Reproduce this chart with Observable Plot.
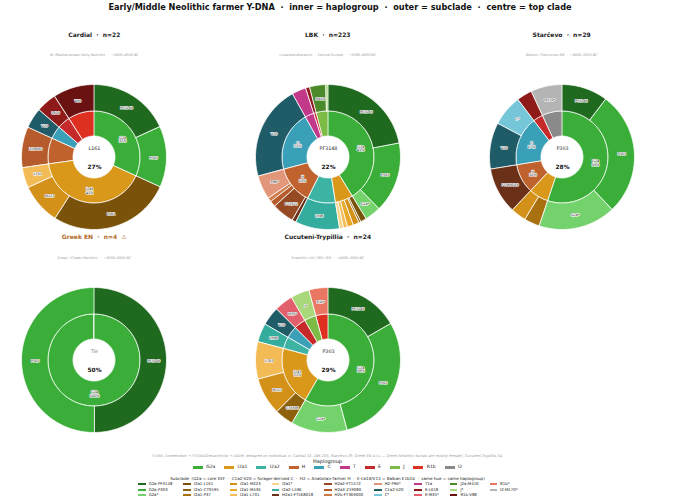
<!DOCTYPE html>
<html><head><meta charset="utf-8">
<script src="https://cdn.jsdelivr.net/npm/d3@7"></script>
<script src="https://cdn.jsdelivr.net/npm/@observablehq/plot@0.6"></script>
<style>
body{margin:0;background:#fff;font-family:"DejaVu Sans",sans-serif;}
#root{position:relative;width:680px;height:503px;overflow:hidden;background:#fff;}
.abs{position:absolute;white-space:pre;text-align:center;line-height:1;}
.ptitle{font-weight:bold;font-size:6px;color:#222;}
.psub{font-style:italic;font-size:3.4px;color:#999;}
.leg1{display:flex;justify-content:center;align-items:center;gap:9px;font-size:4.5px;color:#222;}
.leg1 .it{display:flex;align-items:center;gap:3.3px;}
.leg1 .sw{width:10px;height:2.6px;}
.leg2wrap{display:flex;justify-content:center;}
.leg2{display:grid;grid-template-rows:repeat(3,5.5px);grid-auto-flow:column;column-gap:11px;font-size:3.9px;color:#222;text-align:left;}
.leg2 .it{display:flex;align-items:center;gap:3px;white-space:nowrap;}
.leg2 .sw{width:7.4px;height:1.9px;flex:none;}
</style></head><body><div id="root"></div>
<script>
// ---------- data ----------
const haplogroups = ["G2a","I2a1","I2a2","H","C","T","E","J","R1b","I2"];
const haploColors = ["#3aae38","#d9981a","#3db3a3","#c0622d","#3aa0b8","#c2398a","#c62a2a","#7cbb45","#de3021","#8a8a8a"];

const subclades = ["G2a-PF3148","G2a-P303","G2a*","I2a1-L161","I2a1-CTS595","I2a1-P37","I2a1-M223","I2a1-M436","I2a1-L701","I2a1*","I2a2-L596","H2a1-FT568018","H2a2-FT1572","H2a3-Z19080","H2b-FT369000","H2-P96*","C1a2-V20","C*","T1a","E-L618","E-M35*","J2a-M410","J*","R1b-V88","R1b*","I2-M170*"];
const subcladeLabels = ["PF3148","P303","G2a*","L161","CTS595","P37","M223","M436","L701","I2a1*","L596","FT568018","FT1572","Z19080","FT369000","P96*","V20","C*","T1a","L618","M35*","M410","J*","V88","R1b*","M170*"];
const subcladeHaplo = ["G2a","G2a","G2a","I2a1","I2a1","I2a1","I2a1","I2a1","I2a1","I2a1","I2a2","H","H","H","H","H","C","C","T","E","E","J","J","R1b","R1b","I2"];
const subcladeColors = ["#1f6a1f","#3aae38","#74d26c","#7a5209","#8e620c","#a8700f","#d4911a","#e8a82a","#f2bb55","#f6d488","#35ad9e","#6a3018","#964a24","#b65c2c","#cc7a48","#e2967a","#1f5c68","#74c6d8","#c2398a","#8e1a1a","#e2606c","#4b8a2b","#a8d87a","#6a1212","#ea7664","#b4b4b4"];

const cultures = ["Cardial","LBK","Starčevo","Greek EN","Cucuteni-Trypillia"];
const cultureSubtitles = [
  "W. Mediterranean Early Neolithic  ·  ~5800–4500 BC",
  "Linearbandkeramik  ·  Central Europe  ·  ~5500–4900 BC",
  "Balkan / Pannonian EN  ·  ~6000–5500 BC",
  "Greek / Cretan Neolithic  ·  ~6500–4000 BC",
  "Eneolithic UA / MD / RO  ·  ~4800–3000 BC"
];
const cardialCounts  = [4,3,0, 6,0,0,2,0,1,0, 0, 0,0,2,0,0, 1,0, 0, 1,0, 0,0, 2,0, 0];
const lbkCounts      = [49,35,8, 3,1,0,3,3,2,2, 22, 2,11,3,2,12, 47,0, 7, 2,0, 8,1, 0,0, 0];
const starcevoCounts = [3,8,5, 0,0,1,1,0,0,0, 0, 3,0,0,0,0, 3,2, 0, 1,0, 0,0, 0,0, 2];
const greekCounts    = [2,2,0, 0,0,0,0,0,0,0, 0, 0,0,0,0,0, 0,0, 0, 0,0, 0,0, 0,0, 0];
const cucuteniCounts = [4,7,3, 0,1,0,2,0,2,0, 1, 0,0,0,0,0, 1,0, 0, 0,1, 0,1, 0,1, 0];
const cultureCounts = [cardialCounts, lbkCounts, starcevoCounts, greekCounts, cucuteniCounts];

const mainTitle = "Early/Middle Neolithic farmer Y-DNA  ·  inner = haplogroup  ·  outer = subclade  ·  centre = top clade";
const captionText = "Y-DNA: Dimetrodon → YTDNA/Genarchivist → AADR; deduped on individual. n: Cardial 22, LBK 223, Starčevo 29, Greek EN 4 (⚠ — Greek Neolithic burials are mostly female), Cucuteni-Trypillia 24.";
const subcladeLegendTitle = "Subclade  (G2a = core EEF  ·  C1a2-V20 = forager-derived C  ·  H2 = Anatolian-farmer H  ·  E-L618/V13 = Balkan E1b1b  ·  same hue = same haplogroup)";

// ---------- layout ----------
const panelPos = [[94.3,157.3],[327.8,157.3],[561.7,157.3],[94.3,359.5],[327.8,359.5]];
const R_HOLE = 21, R_MID = 46, R_OUT = 72.5, HALF = 80;
const root = document.getElementById("root");

function div(cls, text, style){
  const d = document.createElement("div");
  d.className = "abs " + cls; d.textContent = text;
  Object.assign(d.style, style); root.appendChild(d); return d;
}
div("", mainTitle, {left:"0px", width:"680px", top:"3px", fontSize:"8.2px", fontWeight:"bold", color:"#111"});

function ringPoints(items, total, r0, r1){
  const pts = []; let acc = 0;
  items.forEach((it) => {
    const a0 = acc/total*2*Math.PI, a1 = (acc+it.count)/total*2*Math.PI;
    acc += it.count;
    const n = Math.max(2, Math.ceil((a1-a0)/(Math.PI/180)));
    for (let i=0;i<=n;i++){
      const a = a0 + (a1-a0)*i/n;
      pts.push({key: it.key, color: it.color,
        x1: r0*Math.sin(a), y1: r0*Math.cos(a), x2: r1*Math.sin(a), y2: r1*Math.cos(a)});
    }
    it.mid = (a0+a1)/2;
  });
  return pts;
}

cultures.forEach((name, ci) => {
  const counts = cultureCounts[ci];
  const total = d3.sum(counts);
  const [cx, cy] = panelPos[ci];
  const outer = subclades.map((s,i)=>({key:s, label:subcladeLabels[i], count:counts[i], color:subcladeColors[i]})).filter(d=>d.count>0);
  const inner = haplogroups.map((h,hi)=>({key:h, label:h, color:haploColors[hi],
     count: d3.sum(subclades.map((s,i)=> subcladeHaplo[i]===h ? counts[i] : 0))})).filter(d=>d.count>0);
  const innerPts = ringPoints(inner, total, R_HOLE, R_MID);
  const outerPts = ringPoints(outer, total, R_MID, R_OUT);
  const rO = (R_MID+R_OUT)/2, rI = (R_HOLE+R_MID)/2;
  const outerLab = outer.filter(d=>d.count/total>=0.035).map(d=>({t:d.label, x:rO*Math.sin(d.mid), y:rO*Math.cos(d.mid)}));
  const innerLab = inner.filter(d=>d.count/total>=0.10).map(d=>({t:d.label+"\n"+Math.round(d.count/total*100)+"%", x:rI*Math.sin(d.mid), y:rI*Math.cos(d.mid)}));
  const maxC = d3.max(counts);
  const tops = counts.map((c,i)=>c===maxC?i:-1).filter(i=>i>=0);
  const isTie = tops.length>1;
  const centre = [{t: isTie ? "Tie" : subcladeLabels[tops[0]], x:0, y:9.5, c: isTie?"#777":"#222"}];
  const centrePct = [{t: Math.round(maxC/total*100)+"%", x:0, y:-9.3}];

  const title = div("ptitle", name + "  ·  n=" + total + (name==="Greek EN" ? "  ⚠" : ""), {left:(cx-110)+"px", width:"220px", top:(cy-125.5)+"px"});
  if (name==="Greek EN") title.style.color = "#b06a1e";
  div("psub", cultureSubtitles[ci], {left:(cx-110)+"px", width:"220px", top:(cy-103)+"px"});

  const svg = Plot.plot({
    width: 2*HALF, height: 2*HALF, margin: 0,
    x: {domain:[-HALF,HALF], axis:null},
    y: {domain:[-HALF,HALF], axis:null},
    color: {type:"identity"},
    style: {fontFamily:"DejaVu Sans", background:"transparent", overflow:"visible"},
    marks: [
      Plot.area(innerPts, {x1:"x1", y1:"y1", x2:"x2", y2:"y2", z:"key", fill:"color", stroke:"white", strokeWidth:0.8}),
      Plot.area(outerPts, {x1:"x1", y1:"y1", x2:"x2", y2:"y2", z:"key", fill:"color", stroke:"white", strokeWidth:0.8}),
      Plot.text(outerLab, {x:"x", y:"y", text:"t", fontSize:3.4, fill:"#111", stroke:"white", strokeWidth:1.2}),
      Plot.text(innerLab, {x:"x", y:"y", text:"t", fontSize:3.5, fill:"#111", stroke:"white", strokeWidth:1.2, lineHeight:1.05}),
      Plot.text(centre, {x:"x", y:"y", text:"t", fontSize:4.8, fill:"c"}),
      Plot.text(centrePct, {x:"x", y:"y", text:"t", fontSize:5.8, fontWeight:"bold", fill:"#111"})
    ]
  });
  svg.style.position = "absolute";
  svg.style.left = (cx-HALF)+"px"; svg.style.top = (cy-HALF)+"px";
  root.appendChild(svg);
});

// caption
div("", captionText, {left:"0px", width:"655px", top:"455.3px", fontSize:"3.6px", fontStyle:"italic", color:"#999"});
// haplogroup legend
div("", "Haplogroup", {left:"0px", width:"655px", top:"458.6px", fontSize:"5px", color:"#222"});
const l1 = document.createElement("div");
l1.className = "abs leg1";
Object.assign(l1.style, {left:"0px", width:"655px", top:"465px"});
haplogroups.forEach((h,i)=>{
  const it = document.createElement("div"); it.className="it";
  it.innerHTML = `<span class="sw" style="background:${haploColors[i]}"></span><span>${h}</span>`;
  l1.appendChild(it);
});
root.appendChild(l1);
// subclade legend
div("", subcladeLegendTitle, {left:"0px", width:"655px", top:"476.6px", fontSize:"4.1px", color:"#222"});
const wrap = document.createElement("div");
wrap.className = "abs leg2wrap";
Object.assign(wrap.style, {left:"0px", width:"656px", top:"481.5px"});
const l2 = document.createElement("div"); l2.className = "leg2";
subclades.forEach((s,i)=>{
  const it = document.createElement("div"); it.className="it";
  it.innerHTML = `<span class="sw" style="background:${subcladeColors[i]}"></span><span>${s}</span>`;
  l2.appendChild(it);
});
wrap.appendChild(l2);
root.appendChild(wrap);
</script></body></html>
